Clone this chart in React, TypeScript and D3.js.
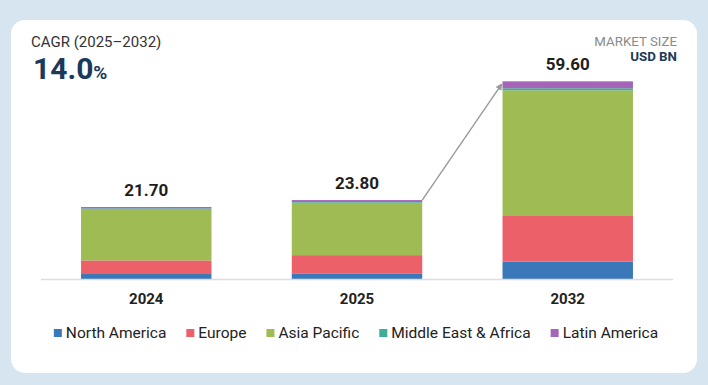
import React, { useEffect, useRef } from 'react';
import * as d3 from 'd3';

const years = ['2024', '2025', '2032'];
const totals = [21.7, 23.8, 59.6];
const regions = ['North America', 'Europe', 'Asia Pacific', 'Middle East & Africa', 'Latin America'];
const colors = ['#3b78b9', '#ec6169', '#9fbb54', '#3eae96', '#a566b9'];

// region values per year (USD BN)
const northAmerica = [1.5, 1.7, 5.2];
const europe = [4.1, 5.5, 13.8];
const asiaPacific = [15.5, 15.8, 37.9];
const middleEastAfrica = [0.2, 0.2, 0.6];
const latinAmerica = [0.4, 0.6, 2.1];

const W = 708;
const H = 385;
const font = 'Roboto, "Noto Sans", sans-serif';

export default function App() {
  const ref = useRef<SVGSVGElement>(null);

  useEffect(() => {
    const svg = d3.select(ref.current);
    svg.selectAll('*').remove();

    const table = years.map((year, i) => ({
      year,
      'North America': northAmerica[i],
      'Europe': europe[i],
      'Asia Pacific': asiaPacific[i],
      'Middle East & Africa': middleEastAfrica[i],
      'Latin America': latinAmerica[i],
    }));

    const x = d3.scaleBand().domain(years).range([41, 673]).paddingInner(0.381).paddingOuter(0.19);
    const y = d3.scaleLinear().domain([0, 60]).range([279, 80]);
    const color = d3.scaleOrdinal<string, string>().domain(regions).range(colors);

    // background + card
    svg.append('rect').attr('width', W).attr('height', H).attr('fill', '#d7e5f1');
    svg.append('rect')
      .attr('x', 11).attr('y', 20).attr('width', 686).attr('height', 353)
      .attr('rx', 14).attr('fill', '#ffffff');

    // header
    svg.append('text')
      .attr('x', 31).attr('y', 47)
      .attr('font-family', font).attr('font-size', 15).attr('fill', '#333333')
      .text('CAGR (2025\u20132032)');
    const cagr = svg.append('text')
      .attr('x', 33).attr('y', 79)
      .attr('font-family', font).attr('font-weight', 700).attr('fill', '#1b3a5a');
    cagr.append('tspan').attr('font-size', 30).text('14.0');
    cagr.append('tspan').attr('font-size', 19).text('%');

    svg.append('text')
      .attr('x', 677).attr('y', 46).attr('text-anchor', 'end')
      .attr('font-family', font).attr('font-size', 13.3).attr('fill', '#8a8a8a')
      .text('MARKET SIZE');
    svg.append('text')
      .attr('x', 677).attr('y', 61).attr('text-anchor', 'end')
      .attr('font-family', font).attr('font-size', 13.3).attr('font-weight', 700).attr('fill', '#1b3a5a')
      .text('USD BN');

    // stacked bars
    const stack = d3.stack<any>().keys(regions)(table);
    svg.append('g')
      .selectAll('g')
      .data(stack)
      .join('g')
      .attr('fill', d => color(d.key))
      .selectAll('rect')
      .data(d => d)
      .join('rect')
      .attr('x', d => x(d.data.year)!)
      .attr('width', x.bandwidth())
      .attr('y', d => y(d[1]))
      .attr('height', d => y(d[0]) - y(d[1]));

    // baseline
    svg.append('line')
      .attr('x1', 41).attr('x2', 673).attr('y1', y(0) + 0.5).attr('y2', y(0) + 0.5)
      .attr('stroke', '#dddddd').attr('stroke-width', 1.5);

    // totals
    svg.append('g')
      .selectAll('text')
      .data(years)
      .join('text')
      .attr('x', d => x(d)! + x.bandwidth() / 2)
      .attr('y', (d, i) => y(totals[i]) - 11)
      .attr('text-anchor', 'middle')
      .attr('font-family', font).attr('font-size', 17).attr('font-weight', 700).attr('fill', '#1e1e1e')
      .text((d, i) => totals[i].toFixed(2));

    // x labels
    svg.append('g')
      .selectAll('text')
      .data(years)
      .join('text')
      .attr('x', d => x(d)! + x.bandwidth() / 2)
      .attr('y', 304)
      .attr('text-anchor', 'middle')
      .attr('font-family', font).attr('font-size', 15).attr('font-weight', 700).attr('fill', '#222222')
      .text(d => d);

    // growth arrow
    svg.append('defs').append('marker')
      .attr('id', 'arrow-head')
      .attr('viewBox', '0 0 10 10')
      .attr('refX', 8).attr('refY', 5)
      .attr('markerWidth', 7).attr('markerHeight', 7)
      .attr('markerUnits', 'userSpaceOnUse')
      .attr('orient', 'auto')
      .append('path')
      .attr('d', 'M0,0 L10,5 L0,10 Z')
      .attr('fill', '#9a9a9a');
    svg.append('line')
      .attr('x1', x('2025')! + x.bandwidth()).attr('y1', y(totals[1]))
      .attr('x2', x('2032')! - 1).attr('y2', y(totals[2]) + 3)
      .attr('stroke', '#9a9a9a').attr('stroke-width', 1.4)
      .attr('marker-end', 'url(#arrow-head)');

    // legend, measured then centred
    const legend = svg.append('g');
    const items = legend.selectAll('g').data(regions).join('g');
    items.append('rect').attr('width', 8).attr('height', 8).attr('y', -4).attr('fill', d => color(d));
    items.append('text')
      .attr('x', 12).attr('dy', '0.35em')
      .attr('font-family', font).attr('font-size', 15.5).attr('fill', '#222222')
      .text(d => d);
    let offset = 0;
    const gap = 20;
    items.each(function () {
      const g = d3.select(this);
      const w = 12 + (g.select('text').node() as SVGTextElement).getComputedTextLength();
      g.attr('transform', `translate(${offset},0)`);
      offset += w + gap;
    });
    const total = offset - gap;
    legend.attr('transform', `translate(${356 - total / 2},333)`);
  }, []);

  return (
    <svg
      ref={ref}
      width={W}
      height={H}
      style={{ position: 'fixed', left: 0, top: 0, display: 'block' }}
    />
  );
}
